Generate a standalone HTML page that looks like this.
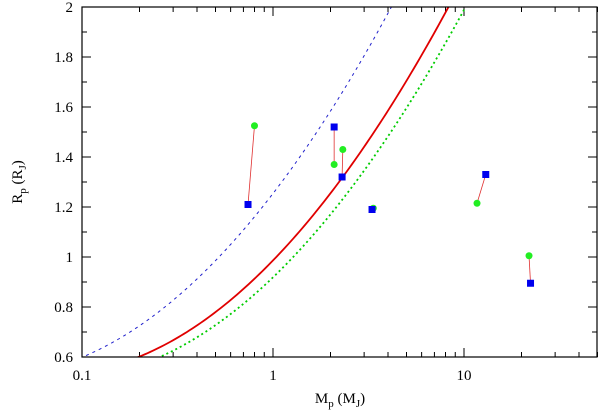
<!DOCTYPE html>
<html><head><meta charset="utf-8"><style>
body{margin:0;background:#fff}
svg{display:block;font-family:"Liberation Serif",serif}
</style></head><body>
<svg id="chart" width="600" height="411">
<defs><clipPath id="clip"><rect x="82" y="7" width="515" height="350"/></clipPath></defs>
<g id="grid"></g>
<g id="curves" clip-path="url(#clip)"></g>
<g id="marks"></g>
<rect x="82" y="7" width="515" height="350" fill="none" stroke="#000" stroke-width="1.2"/>
<text x="340" y="403" font-size="15" text-anchor="middle">M<tspan font-size="11" dy="4">p</tspan><tspan dy="-4"> (M</tspan><tspan font-size="11" dy="4">J</tspan><tspan dy="-4">)</tspan></text>
<text transform="translate(22,182) rotate(-90)" font-size="15" text-anchor="middle">R<tspan font-size="11" dy="4">p</tspan><tspan dy="-4"> (R</tspan><tspan font-size="11" dy="4">J</tspan><tspan dy="-4">)</tspan></text>
</svg>
<script>
const xTicks=[0.1,1,10];
const xTickLabels=["0.1","1","10"];
const yTicks=[0.6,0.8,1,1.2,1.4,1.6,1.8,2];
const yTickLabels=["0.6","0.8","1","1.2","1.4","1.6","1.8","2"];
const blueM=[0.113,0.224,0.410,0.749,1.54,1.92,4.05];
const blueR=[0.6,0.776,0.92,1.148,1.428,1.548,2];
const redM=[0.219,0.497,1.01,1.66,2.30,2.92,4.62,7.96];
const redR=[0.6,0.8,1.0,1.176,1.308,1.428,1.628,2];
const greenM=[0.279,0.497,1.11,2.50,3.59,5.67,9.77];
const greenR=[0.6,0.736,0.976,1.256,1.428,1.628,2];
const sqM=[0.74,2.09,2.3,3.3,13.0,22.3];
const sqR=[1.21,1.52,1.32,1.19,1.33,0.895];
const ciM=[0.8,2.09,2.32,3.35,11.7,21.9];
const ciR=[1.525,1.37,1.43,1.195,1.215,1.005];

const NS="http://www.w3.org/2000/svg";
const X=m=>82+(Math.log10(m)+1)*191;
const Y=r=>357-(r-0.6)*250;
function mk(t,a,p){const e=document.createElementNS(NS,t);for(const k in a)e.setAttribute(k,a[k]);p.appendChild(e);return e;}
const grid=document.getElementById('grid'),curves=document.getElementById('curves'),marks=document.getElementById('marks');
for(let d=-1;d<=1;d++){for(let k=1;k<=9;k++){const m=k*Math.pow(10,d);if(m>50)break;const x=X(m);const L=k==1?9:5;
mk('line',{x1:x,y1:357,x2:x,y2:357-L,stroke:'#000','stroke-width':1},grid);
mk('line',{x1:x,y1:7,x2:x,y2:7+L,stroke:'#000','stroke-width':1},grid);}}
xTicks.forEach((v,i)=>{const t=mk('text',{x:X(v),y:380,'font-size':15,'text-anchor':'middle'},grid);t.textContent=xTickLabels[i];

});
for(let i=0;i<=14;i++){const r=0.6+i*0.1;const y=Y(r);const L=i%2==0?9:5;
mk('line',{x1:82,y1:y,x2:82+L,y2:y,stroke:'#000','stroke-width':1},grid);
mk('line',{x1:597,y1:y,x2:597-L,y2:y,stroke:'#000','stroke-width':1},grid);}
yTicks.forEach((v,i)=>{const t=mk('text',{x:73,y:Y(v)+5,'font-size':15,'text-anchor':'end'},grid);t.textContent=yTickLabels[i];

});
// least-squares quadratic in (log10 M, R) for a smooth model curve
function fit(M,R){const u=M.map(m=>Math.log10(m));let S=[[0,0,0],[0,0,0],[0,0,0]],T=[0,0,0];
u.forEach((x,i)=>{const v=[1,x,x*x];for(let a=0;a<3;a++){T[a]+=v[a]*R[i];for(let b=0;b<3;b++)S[a][b]+=v[a]*v[b];}});
// solve 3x3
const A=S.map((r,i)=>[...r,T[i]]);for(let i=0;i<3;i++){let p=i;for(let k=i+1;k<3;k++)if(Math.abs(A[k][i])>Math.abs(A[p][i]))p=k;[A[i],A[p]]=[A[p],A[i]];
for(let k=0;k<3;k++)if(k!=i){const f=A[k][i]/A[i][i];for(let j=i;j<4;j++)A[k][j]-=f*A[i][j];}}
const c=A.map((r,i)=>r[3]/r[i]);return x=>c[0]+c[1]*x+c[2]*x*x;}
function path(M,R){const f=fit(M,R);const u0=Math.log10(M[0])-0.1,u1=Math.log10(M[M.length-1])+0.1;let d='';
for(let k=0;k<=120;k++){const u=u0+(u1-u0)*k/120;const x=X(Math.pow(10,u)),y=Y(f(u));d+=(k?'L':'M')+x.toFixed(2)+','+y.toFixed(2);}return d;}
const b=mk('path',{d:path(blueM,blueR),fill:'none',stroke:'#2222cc','stroke-width':1,'stroke-dasharray':'3,4'},curves);


const r=mk('path',{d:path(redM,redR),fill:'none',stroke:'#e00000','stroke-width':1.8},curves);


const g=mk('path',{d:path(greenM,greenR),fill:'none',stroke:'#00cc00','stroke-width':1.8,'stroke-dasharray':'2,3'},curves);


sqM.forEach((m,i)=>{
const l=mk('line',{x1:X(m),y1:Y(sqR[i]),x2:X(ciM[i]),y2:Y(ciR[i]),stroke:'#e03030','stroke-width':0.8},marks);

});
ciM.forEach((m,i)=>{const c=mk('circle',{cx:X(m),cy:Y(ciR[i]),r:3.5,fill:'#22ee22'},marks);

});
sqM.forEach((m,i)=>{const s=mk('rect',{x:X(m)-3.5,y:Y(sqR[i])-3.5,width:7,height:7,fill:'#0000ee'},marks);

});
</script>
</body></html>
